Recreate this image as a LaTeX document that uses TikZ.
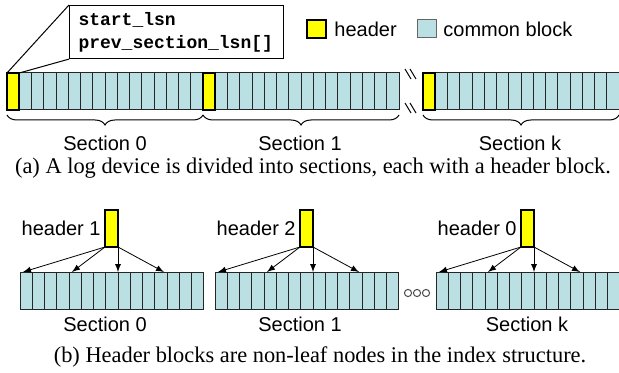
\documentclass[tikz,border=0pt]{standalone}
\usepackage{fontspec}
\setmainfont{Liberation Sans}
\setmonofont{Liberation Mono}
\newfontfamily\capfont{Liberation Serif}
\usepackage{xcolor}
\usepackage{tikz}
\usetikzlibrary{arrows, decorations.pathreplacing}
\definecolor{hdryellow}{RGB}{255,255,0}
\definecolor{blkblue}{RGB}{187,224,227}

\begin{document}
\begin{tikzpicture}[x=0.5pt, y=-0.5pt,
				blk/.style={draw=black!85, fill=blkblue, line width=0.5pt, inner sep=0pt, outer sep=0pt,
					minimum width=6.125pt, minimum height=18.5pt, anchor=north west},
				hdr/.style={draw=black, fill=hdryellow, line width=1.1pt, inner sep=0pt, outer sep=0pt,
					minimum width=6.125pt, minimum height=18.5pt, anchor=north west},
				lbl/.style={font=\fontsize{10}{12}\selectfont, inner sep=0pt},
				captxt/.style={font=\capfont\fontsize{11.2}{13}\selectfont, inner sep=0pt, anchor=base},
				brc/.style={decorate, decoration={brace, mirror, amplitude=5pt}, line width=0.5pt},
				ptr/.style={->, >=latex, line width=0.4pt}]
				\useasboundingbox (0,0) rectangle (619,373);
				% (a) sections on the log device
				\foreach \s/\x in {0/7, 1/203, k/423} {
					\foreach \i in {1,...,15}
						\node at (\x+12.25*\i,73) (a\s-\i) [blk] {};
					\node at (\x,73) (a\s-0) [hdr] {};
					\draw[brc] ([yshift=-2.5pt]a\s-0.south west) -- ([yshift=-2.5pt]a\s-15.south east);
				}
				\node at (105,143) (sec0) [lbl] {Section 0};
				\node at (300,143) (sec1) [lbl] {Section 1};
				\node at (520,143) (seck) [lbl] {Section k};
				% break marks
				\draw[line width=0.5pt] (405,69) -- (411,79) (410,69) -- (416,79);
				\draw[line width=0.5pt] (405,103) -- (411,113) (410,103) -- (416,113);
				% callout
				\node at (69,5) (info) [draw, line width=0.5pt, anchor=north west, minimum height=26.5pt,
					text width=98pt, inner xsep=4.5pt, align=left,
					font=\ttfamily\bfseries\fontsize{9}{11.5}\selectfont] {start\_lsn\\prev\_section\_lsn[]};
				\draw[line width=0.5pt] (a0-0.north west) -- (info.north west);
				\draw[line width=0.5pt] (a0-0.north east) -- (info.south west);
				% legend
				\node at (307,20) (keyhdr) [hdr, minimum width=9.5pt, minimum height=9pt] {};
				\node at (334,29) (keyhdrtxt) [lbl, anchor=west] {header};
				\node at (417,20) (keyblk) [blk, draw=black!60, minimum width=9.5pt, minimum height=9pt] {};
				\node at (443,29) (keyblktxt) [lbl, anchor=west] {common block};
				\node at (313,174) (capa) [captxt] {(a) A log device is divided into sections, each with a header block.};
				% (b) headers as index nodes
				\foreach \s/\x in {0/20, 1/215, k/436}
					\foreach \i in {0,...,14}
						\node at (\x+12.25*\i,272) (b\s-\i) [blk] {};
				\foreach \h/\s/\x in {1/0/105, 2/1/300, 0/k/521} {
					\node at (\x,210) (h\h) [hdr, minimum width=6.5pt] {};
					\node at (\x-4,228) (h\h txt) [lbl, anchor=east] {header \h};
					\draw[ptr] (h\h.south west) -- ([xshift=1.5pt]b\s-0.north west);
					\draw[ptr] (h\h.south west) -- ([xshift=1.5pt]b\s-4.north west);
					\draw[ptr] (h\h.south east) -- (b\s-8.north west);
					\draw[ptr] (h\h.south east) -- ([xshift=-1.5pt]b\s-12.north west);
				}
				\foreach \d/\x in {1/408, 2/417, 3/426}
					\node at (\x,293) (dot\d) [circle, draw=black!70, fill=white, line width=0.5pt,
						minimum size=3.6pt, inner sep=0pt] {};
				\node at (105,324) (bsec0) [lbl] {Section 0};
				\node at (300,324) (bsec1) [lbl] {Section 1};
				\node at (527,324) (bseck) [lbl] {Section k};
				\node at (320,362) (capb) [captxt] {(b) Header blocks are non-leaf nodes in the index structure.};
			\end{tikzpicture}
\end{document}
